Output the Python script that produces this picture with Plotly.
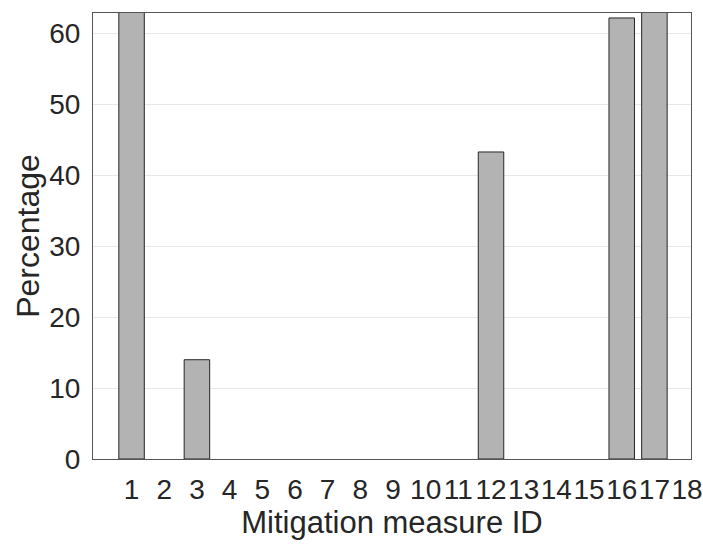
import plotly.graph_objects as go

measure_ids = list(range(1, 19))
percentages = [68, 0, 14.0, 0, 0, 0, 0, 0, 0, 0, 0, 43.3, 0, 0, 0, 62.2, 68, 0]
x_tick_labels = [str(i) for i in measure_ids]
y_ticks = [0, 10, 20, 30, 40, 50, 60]

font_family = "Liberation Sans, Arial, sans-serif"
text_color = "#262626"

outline_widths = [1 if v > 0 else 0 for v in percentages]

fig = go.Figure()
fig.add_trace(go.Bar(
    x=measure_ids,
    y=percentages,
    width=0.78,
    marker=dict(color="#b3b3b3", line=dict(color="#262626", width=outline_widths)),
    showlegend=False,
))

fig.update_layout(
    width=703, height=549,
    margin=dict(l=93, r=12, t=13, b=90),
    paper_bgcolor="white",
    plot_bgcolor="white",
    font=dict(family=font_family, size=28, color=text_color),
)
fig.update_xaxes(
    range=[-0.18, 18.12], automargin=False,
    tickmode="array", tickvals=measure_ids, ticktext=x_tick_labels,
    tickangle=0,
    showgrid=False, zeroline=False,
    showline=True, linecolor="#555555", linewidth=1, mirror=True,
    ticks="", ticklen=0, ticklabelstandoff=5,
    tickfont=dict(size=28, color=text_color),
    title=dict(text="Mitigation measure ID", font=dict(size=31, color=text_color), standoff=6),
)
fig.update_yaxes(
    range=[0, 62.9], automargin=False,
    tickmode="array", tickvals=y_ticks,
    showgrid=True, gridcolor="#e8e8e8", gridwidth=1,
    zeroline=False,
    showline=True, linecolor="#555555", linewidth=1, mirror=True,
    ticks="", ticklen=0, ticklabelstandoff=6,
    tickfont=dict(size=28, color=text_color),
    title=dict(text="Percentage", font=dict(size=32, color=text_color), standoff=0),
)

fig.write_html("out.html")
